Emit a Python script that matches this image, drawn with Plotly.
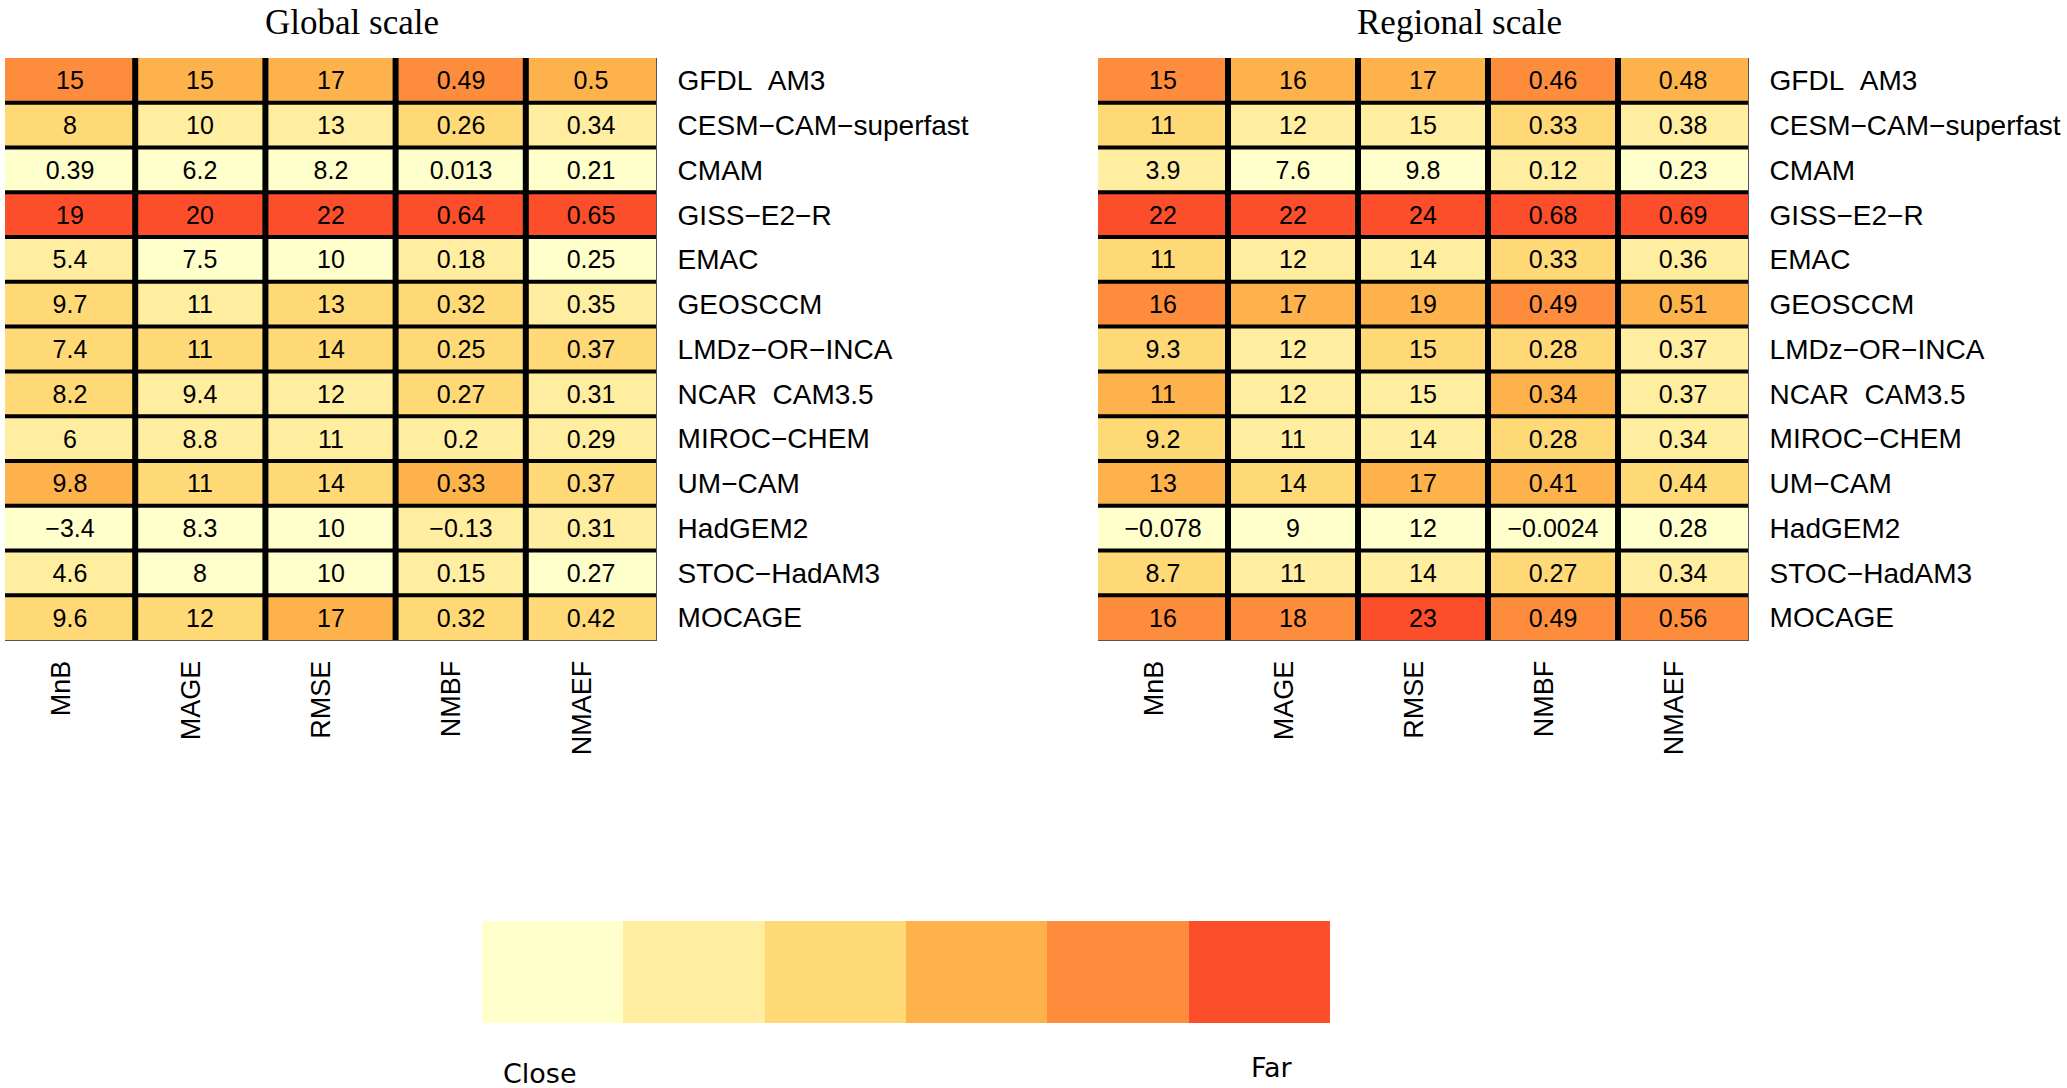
import plotly.graph_objects as go

# ---------------- data ----------------
models = ["GFDL\u00a0\u00a0AM3", "CESM\u2212CAM\u2212superfast", "CMAM", "GISS\u2212E2\u2212R", "EMAC",
          "GEOSCCM", "LMDz\u2212OR\u2212INCA", "NCAR\u00a0\u00a0CAM3.5", "MIROC\u2212CHEM", "UM\u2212CAM",
          "HadGEM2", "STOC\u2212HadAM3", "MOCAGE"]
metrics = ["MnB", "MAGE", "RMSE", "NMBF", "NMAEF"]

# Global scale values (per metric, in model order)
global_mnb = [15, 8, 0.39, 19, 5.4, 9.7, 7.4, 8.2, 6, 9.8, -3.4, 4.6, 9.6]
global_mage = [15, 10, 6.2, 20, 7.5, 11, 11, 9.4, 8.8, 11, 8.3, 8, 12]
global_rmse = [17, 13, 8.2, 22, 10, 13, 14, 12, 11, 14, 10, 10, 17]
global_nmbf = [0.49, 0.26, 0.013, 0.64, 0.18, 0.32, 0.25, 0.27, 0.2, 0.33, -0.13, 0.15, 0.32]
global_nmaef = [0.5, 0.34, 0.21, 0.65, 0.25, 0.35, 0.37, 0.31, 0.29, 0.37, 0.31, 0.27, 0.42]

# Global scale colour classes (0 = close ... 5 = far)
global_mnb_cls = [4, 2, 0, 5, 1, 2, 2, 2, 1, 3, 0, 1, 2]
global_mage_cls = [3, 1, 0, 5, 0, 1, 2, 1, 1, 2, 0, 0, 2]
global_rmse_cls = [3, 1, 0, 5, 0, 2, 2, 1, 1, 2, 0, 0, 3]
global_nmbf_cls = [4, 2, 0, 5, 1, 2, 2, 2, 1, 3, 1, 1, 2]
global_nmaef_cls = [3, 1, 0, 5, 0, 1, 2, 1, 1, 2, 1, 0, 2]

# Regional scale values
reg_mnb = [15, 11, 3.9, 22, 11, 16, 9.3, 11, 9.2, 13, -0.078, 8.7, 16]
reg_mage = [16, 12, 7.6, 22, 12, 17, 12, 12, 11, 14, 9, 11, 18]
reg_rmse = [17, 15, 9.8, 24, 14, 19, 15, 15, 14, 17, 12, 14, 23]
reg_nmbf = [0.46, 0.33, 0.12, 0.68, 0.33, 0.49, 0.28, 0.34, 0.28, 0.41, -0.0024, 0.27, 0.49]
reg_nmaef = [0.48, 0.38, 0.23, 0.69, 0.36, 0.51, 0.37, 0.37, 0.34, 0.44, 0.28, 0.34, 0.56]

# Regional scale colour classes
reg_mnb_cls = [4, 2, 1, 5, 2, 4, 2, 3, 2, 3, 0, 2, 4]
reg_mage_cls = [3, 1, 0, 5, 1, 3, 1, 1, 1, 2, 0, 1, 4]
reg_rmse_cls = [3, 1, 0, 5, 1, 3, 2, 1, 1, 3, 0, 1, 5]
reg_nmbf_cls = [4, 2, 1, 5, 2, 4, 2, 3, 2, 3, 0, 2, 4]
reg_nmaef_cls = [3, 1, 0, 5, 1, 3, 1, 1, 1, 2, 0, 1, 4]

class_levels = [0, 1, 2, 3, 4, 5]
class_colors = ["#FFFFCC", "#FFEDA0", "#FED976", "#FEB24C", "#FD8D3C", "#FC4E2A"]
legend_labels = ["Close", "Far"]

# ---------------- helpers ----------------
W, H = 2067, 1088


def fx(px):
    return min(1.0, max(0.0, px / W))


def fy(px):
    return min(1.0, max(0.0, 1 - px / H))


def fmt(v):
    return f"{v:.2g}".replace("-", "\u2212")


def build(cols_vals, cols_cls):
    z = [[cols_cls[c][r] for c in range(len(metrics))] for r in range(len(models))]
    txt = [[fmt(cols_vals[c][r]) for c in range(len(metrics))] for r in range(len(models))]
    return z, txt


n = len(class_colors)
colorscale = []
for i, c in enumerate(class_colors):
    colorscale.append([i / n, c])
    colorscale.append([(i + 1) / n, c])

g_z, g_t = build([global_mnb, global_mage, global_rmse, global_nmbf, global_nmaef],
                 [global_mnb_cls, global_mage_cls, global_rmse_cls, global_nmbf_cls, global_nmaef_cls])
r_z, r_t = build([reg_mnb, reg_mage, reg_rmse, reg_nmbf, reg_nmaef],
                 [reg_mnb_cls, reg_mage_cls, reg_rmse_cls, reg_nmbf_cls, reg_nmaef_cls])

cell_font = dict(family="Liberation Sans", size=25, color="black")

fig = go.Figure()
for z, t, xa, ya in [(g_z, g_t, "x", "y"), (r_z, r_t, "x2", "y2")]:
    fig.add_trace(go.Heatmap(
        z=z, x=metrics, y=models, text=t, texttemplate="%{text}", textfont=cell_font,
        colorscale=colorscale, zmin=-0.5, zmax=5.5, showscale=False,
        xaxis=xa, yaxis=ya, hoverinfo="skip"))

# colour legend bar
fig.add_trace(go.Heatmap(
    z=[class_levels], x=class_levels, y=[0], colorscale=colorscale, zmin=-0.5, zmax=5.5,
    showscale=False, xaxis="x3", yaxis="y3", hoverinfo="skip"))

lab_font = dict(family="Liberation Sans", size=27, color="black")
row_font = dict(family="Liberation Sans", size=28, color="black")

top_px, bot_px = 58, 640
panels = [(5, 656), (1098, 1748)]
y_dom = [fy(bot_px), fy(top_px)]

xcommon = dict(type="category", tickangle=-90, tickfont=lab_font, showgrid=False, zeroline=False,
               showline=True, linecolor="#555555", linewidth=1, ticks="", ticklabelstandoff=9,
               ticklabelshift=-9, fixedrange=True)
ycommon = dict(type="category", autorange="reversed", side="right", tickfont=row_font, showgrid=False,
               zeroline=False, showline=True, linecolor="#555555", linewidth=1, ticks="",
               ticklabelstandoff=15, fixedrange=True)

layout = dict(
    width=W, height=H,
    margin=dict(l=0, r=0, t=0, b=0),
    paper_bgcolor="white", plot_bgcolor="white",
    xaxis3=dict(domain=[fx(482), fx(1330)], anchor="y3", visible=False, range=[-0.5, 5.5]),
    yaxis3=dict(domain=[fy(1023), fy(921)], anchor="x3", visible=False, range=[-0.5, 0.5]),
    showlegend=False,
)
for k, (l, r) in enumerate(panels):
    xs = "" if k == 0 else "2"
    layout["xaxis" + xs] = dict(domain=[fx(l), fx(r)], anchor="y" + xs, **xcommon)
    layout["yaxis" + xs] = dict(domain=y_dom, anchor="x" + xs, **ycommon)
fig.update_layout(**layout)

# black cell borders between categories (positions follow the category count)
for xs in ["", "2"]:
    for i in range(len(models) - 1):
        fig.add_shape(type="line", xref="x" + xs + " domain", yref="y" + xs,
                      x0=0, x1=1, y0=i + 0.5, y1=i + 0.5,
                      line=dict(color="black", width=4), layer="above")
    for i in range(len(metrics) - 1):
        fig.add_shape(type="line", xref="x" + xs, yref="y" + xs + " domain",
                      x0=i + 0.5, x1=i + 0.5, y0=0, y1=1,
                      line=dict(color="black", width=6), layer="above")

title_font = dict(family="Liberation Serif", size=35, color="black")
fig.add_annotation(text="Global scale", x=fx(352), y=fy(22), xref="paper", yref="paper",
                   showarrow=False, font=title_font, xanchor="center", yanchor="middle")
fig.add_annotation(text="Regional scale", x=fx(1459), y=fy(22), xref="paper", yref="paper",
                   showarrow=False, font=title_font, xanchor="center", yanchor="middle")

leg_font = dict(family="DejaVu Sans", size=27, color="black")
fig.add_annotation(text=legend_labels[0], x=class_levels[0], y=0, xref="x3", yref="y3",
                   yshift=-101, xshift=-13, showarrow=False, font=leg_font)
fig.add_annotation(text=legend_labels[1], x=class_levels[-1], y=0, xref="x3", yref="y3",
                   yshift=-95, xshift=13, showarrow=False, font=leg_font)

fig.write_html("out.html", config={"displayModeBar": False},
               post_script="document.body.style.margin='0px';")
